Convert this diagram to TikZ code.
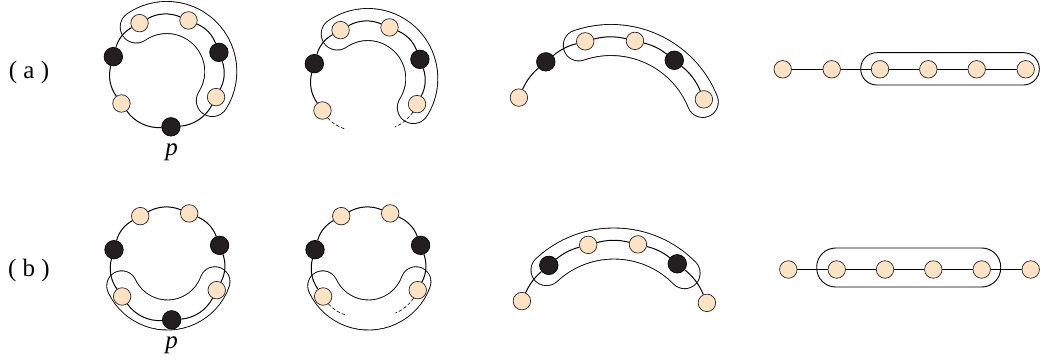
\documentclass[tikz,border=0pt]{standalone}
\usepackage{fontspec}
\setmainfont{Liberation Serif}
\definecolor{peach}{RGB}{253,227,195}
\definecolor{nodeblack}{RGB}{35,31,32}
\begin{document}
\begin{tikzpicture}[x=1pt,y=1pt,
  bn/.style={circle, draw=black!85, line width=0.7pt, fill=peach, minimum size=17.5pt, inner sep=0pt},
  kn/.style={circle, draw=black, line width=0.7pt, fill=nodeblack, minimum size=18.5pt, inner sep=0pt},
  conn/.style={line width=1pt, looseness=0.9},
  dconn/.style={line width=0.6pt, dash pattern=on 3.5pt off 2pt, looseness=0.9},
  grpband/.style={line width=0.9pt, double distance=#1, line cap=round},
  lbl/.style={font=\fontsize{25}{30}\selectfont, anchor=base, inner sep=0pt}]
\useasboundingbox (0,0) rectangle (1040,362);

% centres
\coordinate (CA1) at (166.8,290.5);
\coordinate (CA2) at (367.8,283.5);
\coordinate (CB1) at (167.5,97.5);
\coordinate (CB2) at (368.5,97.5);
\coordinate (CA3) at (611,223);
\coordinate (CB3) at (614,19.5);

% group bands
\foreach \c in {A1,A2}
  \draw[grpband=31.1pt] ([shift={(-32.5:54)}]C\c) arc[start angle=-32.5, end angle=124.5, radius=54];
\foreach \c in {B1,B2}
  \draw[grpband=29.1pt] ([shift={(205:50.5)}]C\c) arc[start angle=205, end angle=340, radius=50.5];
\draw[grpband=30.1pt] ([shift={(22:99)}]CA3) arc[start angle=22, end angle=109, radius=99];
\draw[grpband=30.1pt] ([shift={(44.5:99)}]CB3) arc[start angle=44.5, end angle=133, radius=99];
\draw[line width=0.9pt, rounded corners=16pt] (860.7,277) rectangle (1039.3,309.3);
\draw[line width=0.9pt, rounded corners=19pt] (816.7,75) rectangle (1000.7,114);

% full circles with p
\foreach \c in {A1,B1}{
  \foreach \n/\a in {tl/119.4, tr/67, rl/-27.5, ll/215.2}
    \node[bn] (\c\n) at ([shift={(\a:55.5)}]C\c) {};
  \foreach \n/\a in {rb/20.2, p/-85.7, lb/164.5}
    \node[kn] (\c\n) at ([shift={(\a:55.5)}]C\c) {};
  \foreach \u/\v/\b in {ll/p/29.55, p/rl/29.1, rl/rb/23.85, rb/tr/23.4, tr/tl/26.2, tl/lb/22.55, lb/ll/25.35}
    \draw[conn] (\c\u) to[bend right=\b] (\c\v);
}

% circles with p removed
\foreach \c in {A2,B2}{
  \foreach \n/\a in {tl/119.4, tr/67, rl/-27.5, ll/215.2}
    \node[bn] (\c\n) at ([shift={(\a:55.5)}]C\c) {};
  \foreach \n/\a in {rb/20.2, lb/164.5}
    \node[kn] (\c\n) at ([shift={(\a:55.5)}]C\c) {};
  \foreach \u/\v/\b in {rl/rb/23.85, rb/tr/23.4, tr/tl/26.2, tl/lb/22.55, lb/ll/25.35}
    \draw[conn] (\c\u) to[bend right=\b] (\c\v);
  \coordinate (\c e1) at ([shift={(245:55.5)}]C\c);
  \coordinate (\c e2) at ([shift={(-61:55.5)}]C\c);
  \draw[dconn] (\c ll) to[bend right=14.9] (\c e1);
  \draw[dconn] (\c rl) to[bend left=16.75] (\c e2);
}

% opened arcs
\foreach \c in {A3,B3}{
  \foreach \n/\a in {1/155.8, 3/104.8, 4/76.3, 6/23.1}
    \node[bn] (\c n\n) at ([shift={(\a:101)}]C\c) {};
  \foreach \n/\a in {2/130.2, 5/51.2}
    \node[kn] (\c n\n) at ([shift={(\a:101)}]C\c) {};
  \foreach \u/\v/\b in {1/2/12.8, 2/3/12.7, 3/4/14.25, 4/5/12.55, 5/6/14.05}
    \draw[conn] (\c n\u) to[bend left=\b] (\c n\v);
}

% chains
\foreach \i/\x in {1/782.7, 2/831.7, 3/880, 4/928.3, 5/976.7, 6/1025.7}
  \node[bn] (A4n\i) at (\x,292.7) {};
\foreach \i/\x in {1/788.3, 2/836.7, 3/885, 4/933.3, 5/981.7, 6/1030.7}
  \node[bn] (B4n\i) at (\x,92.5) {};
\foreach \u/\v in {1/2, 2/3, 3/4, 4/5, 5/6}{
  \draw[conn] (A4n\u) -- (A4n\v);
  \draw[conn] (B4n\u) -- (B4n\v);
}

% labels
\node[lbl] (la) at (29,283.5) {( a )};
\node[lbl] (lb) at (29,86) {( b )};
\node[lbl] (pa) at (171.5,207) {\textit{p}};
\node[lbl] (pb) at (171.7,14) {\textit{p}};
\end{tikzpicture}
\end{document}
